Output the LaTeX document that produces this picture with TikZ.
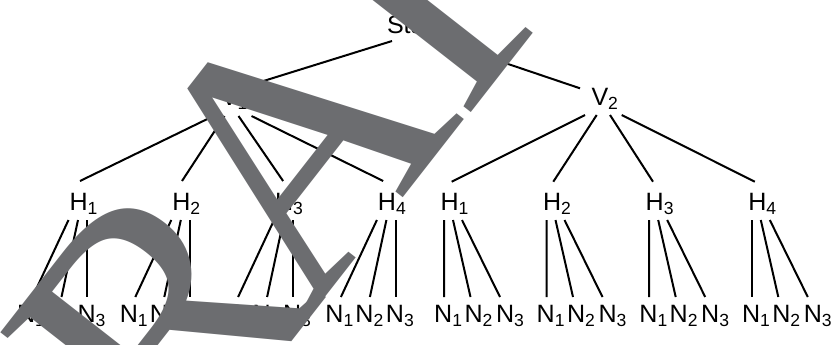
\documentclass[tikz,border=0pt]{standalone}
\usepackage{fontspec}
\setmainfont{Liberation Sans}
\newfontfamily\wmfont{Liberation Serif}
\usetikzlibrary{calc}
\definecolor{wmgray}{RGB}{108,109,112}
\begin{document}
\begin{tikzpicture}[x=0.75pt,y=-0.75pt,
  lbl/.style={inner sep=0pt,outer sep=0pt,anchor=base west,font=\fontsize{18.8}{22}\selectfont},
  edge/.style={line width=1.5pt},
  wm/.style={inner sep=0pt,outer sep=0pt,anchor=base west,rotate=52,text=wmgray,font=\wmfont\fontsize{269}{269}\selectfont}]
\useasboundingbox (0,0) rectangle (834,344);
\clip (0,0) rectangle (834,344);
% top levels
\node[lbl] (root) at (387,33) {Start};
\node[lbl] (v1) at (221,105) {V\textsubscript{1}};
\node[lbl] (v2) at (591.5,105) {V\textsubscript{2}};
\draw[edge] ($(root.base west)+(5,8)$) -- ($(v1.base west)+(20,-17)$);
\draw[edge] ($(root.base west)+(53,8)$) -- ($(v2.base west)+(-11.5,-16.7)$);
% left subtree
\foreach \i/\bx/\sx/\ex in {1/69.5/-7.5/10.5,2/172.3/3.5/9.7,3/275.1/17.5/8,4/377.9/30.5/5.3} {
  \node[lbl] (a\i) at (\bx,210) {H\textsubscript{\i}};
  \node[lbl] (a\i-1) at (\bx-52.5,322) {N\textsubscript{1}};
  \node[lbl] (a\i-2) at (\bx-22.5,322) {N\textsubscript{2}};
  \node[lbl] (a\i-3) at (\bx+8,322) {N\textsubscript{3}};
  \draw[edge] ($(v1.base west)+(\sx,11)$) -- ($(a\i.base west)+(\ex,-29)$);
  \draw[edge] ($(a\i.base west)+(-1,10)$) -- ($(a\i-1.base west)+(15.5,-25)$);
  \draw[edge] ($(a\i.base west)+(8.5,10)$) -- ($(a\i-2.base west)+(14.5,-25)$);
  \draw[edge] ($(a\i.base west)+(17.7,10)$) -- ($(a\i-3.base west)+(9.7,-25)$);
}
% right subtree
\foreach \i/\bx/\sx/\ex in {1/440.5/-6.5/11.2,2/543/5.2/10.3,3/645.7/18.5/7.3,4/748.3/30.2/6.5} {
  \node[lbl] (b\i) at (\bx,210) {H\textsubscript{\i}};
  \node[lbl] (b\i-1) at (\bx-6.3,322) {N\textsubscript{1}};
  \node[lbl] (b\i-2) at (\bx+24,322) {N\textsubscript{2}};
  \node[lbl] (b\i-3) at (\bx+55.5,322) {N\textsubscript{3}};
  \draw[edge] ($(v2.base west)+(\sx,10)$) -- ($(b\i.base west)+(\ex,-28.3)$);
  \draw[edge] ($(b\i.base west)+(3.5,10)$) -- ($(b\i-1.base west)+(9.8,-25)$);
  \draw[edge] ($(b\i.base west)+(12.5,10)$) -- ($(b\i-2.base west)+(6,-25)$);
  \draw[edge] ($(b\i.base west)+(21.5,10)$) -- ($(b\i-3.base west)+(4,-25)$);
}
% watermark
\node[wm] (wmr) at (179.2,485.2) {R};
\node[wm] (wma) at (306.9,321.7) {A};
\node[wm] (wmf) at (463.1,122.0) {F};
\end{tikzpicture}
\end{document}
